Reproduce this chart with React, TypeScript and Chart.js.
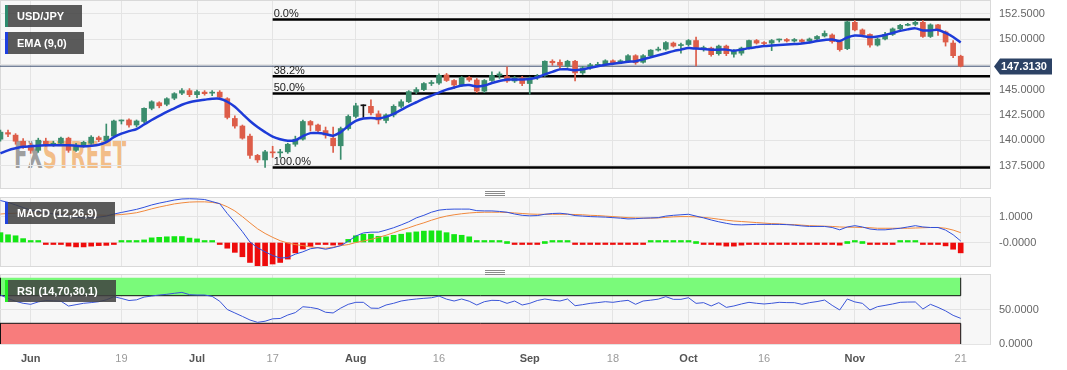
import React, { useEffect, useRef } from 'react';
import { Chart, registerables } from 'chart.js';

Chart.register(...registerables);

const FONT = '"Liberation Sans", Arial, Helvetica, sans-serif';
Chart.defaults.font.family = FONT;

// ---------- DATA ----------
const tradingDays = [
  '2023-05-26','2023-05-29','2023-05-30','2023-05-31',
  '2023-06-01','2023-06-02','2023-06-05','2023-06-06','2023-06-07','2023-06-08','2023-06-09','2023-06-12','2023-06-13','2023-06-14','2023-06-15','2023-06-16','2023-06-19','2023-06-20','2023-06-21','2023-06-22','2023-06-23','2023-06-26','2023-06-27','2023-06-28','2023-06-29','2023-06-30',
  '2023-07-03','2023-07-04','2023-07-05','2023-07-06','2023-07-07','2023-07-10','2023-07-11','2023-07-12','2023-07-13','2023-07-14','2023-07-17','2023-07-18','2023-07-19','2023-07-20','2023-07-21','2023-07-24','2023-07-25','2023-07-26','2023-07-27','2023-07-28','2023-07-31',
  '2023-08-01','2023-08-02','2023-08-03','2023-08-04','2023-08-07','2023-08-08','2023-08-09','2023-08-10','2023-08-11','2023-08-14','2023-08-15','2023-08-16','2023-08-17','2023-08-18','2023-08-21','2023-08-22','2023-08-23','2023-08-24','2023-08-25','2023-08-28','2023-08-29','2023-08-30','2023-08-31',
  '2023-09-01','2023-09-04','2023-09-05','2023-09-06','2023-09-07','2023-09-08','2023-09-11','2023-09-12','2023-09-13','2023-09-14','2023-09-15','2023-09-18','2023-09-19','2023-09-20','2023-09-21','2023-09-22','2023-09-25','2023-09-26','2023-09-27','2023-09-28','2023-09-29',
  '2023-10-02','2023-10-03','2023-10-04','2023-10-05','2023-10-06','2023-10-09','2023-10-10','2023-10-11','2023-10-12','2023-10-13','2023-10-16','2023-10-17','2023-10-18','2023-10-19','2023-10-20','2023-10-23','2023-10-24','2023-10-25','2023-10-26','2023-10-27','2023-10-30','2023-10-31',
  '2023-11-01','2023-11-02','2023-11-03','2023-11-06','2023-11-07','2023-11-08','2023-11-09','2023-11-10','2023-11-13','2023-11-14','2023-11-15','2023-11-16','2023-11-17','2023-11-20','2023-11-21',
];

const opens = [
  140.1, 140.75, 140.5, 139.9, 139.5, 139.0, 139.9, 139.6, 139.7, 140.2,
  139.0, 139.55, 139.7, 140.25, 139.95, 140.4, 141.9, 142.0, 141.5, 141.85,
  143.15, 143.7, 143.55, 144.15, 144.65, 144.9, 144.5, 144.75, 144.65, 144.75,
  144.1, 142.15, 141.4, 140.4, 138.5, 138.05, 138.85, 138.75, 138.85, 139.6,
  140.1, 141.85, 141.5, 140.95, 140.2, 139.45, 141.15, 142.35, 143.4, 143.35,
  142.6, 141.95, 142.5, 143.35, 143.8, 144.8, 145.0, 145.6, 145.65, 146.45,
  145.9, 145.45, 146.2, 145.95, 144.85, 145.9, 146.4, 146.3, 145.85, 146.15,
  145.6, 146.15, 146.4, 147.8, 147.7, 147.3, 147.8, 146.65, 147.15, 147.4,
  147.5, 147.85, 147.7, 147.85, 148.35, 147.7, 148.35, 148.9, 149.0, 149.6,
  149.35, 149.45, 149.85, 149.05, 149.1, 148.55, 149.3, 148.5, 148.6, 149.15,
  149.85, 149.65, 149.6, 149.9, 149.95, 149.8, 149.9, 149.8, 150.0, 150.3,
  150.4, 149.75, 149.05, 151.65, 150.9, 150.45, 149.4, 150.0, 150.45, 151.0,
  151.35, 151.45, 151.65, 150.25, 151.4, 150.7, 149.6, 148.3,
];
const highs = [
  141.0, 141.0, 140.65, 140.15, 139.7, 140.2, 140.2, 139.9, 140.3, 140.3,
  139.7, 139.9, 140.45, 140.4, 141.6, 142.0, 142.0, 142.1, 142.0, 143.2,
  143.9, 143.8, 144.2, 144.7, 145.1, 145.1, 144.95, 144.9, 144.9, 144.9,
  144.2, 142.4, 141.5, 140.6, 138.6, 139.0, 139.4, 139.1, 139.7, 140.4,
  142.0, 141.95, 141.6, 141.3, 141.3, 141.3, 142.5, 143.65, 143.5, 144.0,
  142.9, 142.6, 143.5, 144.0, 144.9, 145.2, 145.7, 145.9, 146.55, 146.6,
  146.0, 146.3, 146.3, 146.1, 146.0, 146.75, 146.75, 147.25, 146.3, 146.3,
  146.25, 146.5, 147.85, 147.95, 147.95, 147.9, 147.9, 147.3, 147.6, 147.7,
  147.95, 147.95, 147.95, 148.45, 148.45, 148.45, 148.95, 149.2, 149.75, 149.7,
  149.6, 149.95, 150.2, 149.3, 149.2, 149.4, 149.4, 148.95, 149.2, 149.9,
  149.95, 149.75, 149.95, 150.0, 150.05, 150.05, 150.0, 150.1, 150.35, 150.8,
  150.5, 149.85, 151.75, 151.85, 151.0, 150.5, 150.1, 150.65, 151.1, 151.45,
  151.55, 151.85, 151.85, 151.5, 151.45, 150.8, 149.85, 148.4,
];
const lows = [
  139.9, 140.35, 139.6, 139.2, 138.7, 138.8, 139.4, 139.4, 139.5, 138.8,
  138.9, 139.3, 139.6, 139.85, 139.8, 140.3, 141.6, 141.3, 141.3, 141.7,
  143.0, 143.2, 143.4, 144.0, 144.5, 144.3, 144.2, 144.45, 144.4, 144.0,
  142.1, 141.2, 140.1, 138.2, 137.8, 137.3, 138.3, 138.3, 138.7, 139.4,
  140.0, 140.9, 140.8, 140.2, 138.8, 138.1, 141.0, 142.2, 142.25, 142.5,
  141.6, 141.7, 142.3, 143.2, 143.7, 144.6, 144.9, 145.4, 145.5, 145.8,
  145.1, 145.3, 145.8, 144.7, 144.7, 145.8, 146.1, 145.7, 145.7, 145.4,
  144.55, 146.0, 146.3, 147.4, 147.0, 147.2, 145.85, 146.5, 147.0, 147.3,
  147.4, 147.5, 147.55, 147.75, 147.5, 147.6, 148.2, 148.8, 148.9, 149.2,
  148.6, 149.3, 147.35, 148.8, 148.3, 148.4, 148.35, 148.2, 148.4, 149.0,
  149.5, 149.3, 148.85, 149.7, 149.7, 149.7, 149.6, 149.6, 149.9, 150.2,
  149.6, 148.8, 148.95, 150.8, 150.25, 149.2, 149.3, 149.9, 150.35, 150.9,
  151.3, 151.3, 150.15, 150.15, 150.35, 149.3, 148.15, 147.25,
];
const closes = [
  140.8, 140.6, 139.9, 139.4, 139.0, 140.0, 139.6, 139.7, 140.2, 139.0,
  139.5, 139.8, 140.3, 140.05, 140.4, 141.9, 141.95, 141.5, 141.9, 143.15,
  143.8, 143.4, 144.1, 144.6, 144.9, 144.5, 144.8, 144.6, 144.75, 144.25,
  142.25, 141.4, 140.2, 138.5, 138.05, 138.85, 138.75, 138.85, 139.6, 140.1,
  141.85, 141.5, 140.95, 140.5, 139.45, 141.15, 142.35, 143.4, 143.4, 142.7,
  142.0, 142.5, 143.35, 143.8, 144.8, 145.0, 145.6, 145.7, 146.4, 145.9,
  145.45, 146.2, 145.95, 144.85, 145.9, 146.4, 146.55, 145.85, 146.15, 145.6,
  146.15, 146.35, 147.8, 147.65, 147.4, 147.8, 146.65, 147.15, 147.45, 147.5,
  147.85, 147.65, 147.85, 148.35, 147.65, 148.35, 148.9, 149.0, 149.65, 149.3,
  149.45, 149.85, 149.15, 149.1, 148.45, 149.3, 148.55, 148.8, 149.1, 149.85,
  149.6, 149.55, 149.85, 149.95, 149.8, 149.95, 149.75, 150.0, 150.25, 150.55,
  149.75, 148.95, 151.7, 150.9, 150.45, 149.4, 150.0, 150.45, 151.0, 151.35,
  151.45, 151.65, 150.25, 151.4, 150.85, 149.7, 148.35, 147.313,
];
const ema9 = [
  138.7, 139.0, 139.2, 139.35, 139.4, 139.45, 139.5, 139.5, 139.5, 139.5,
  139.45, 139.4, 139.45, 139.55, 139.8, 140.3, 140.65, 140.9, 141.1, 141.55,
  142.0, 142.4, 142.8, 143.15, 143.5, 143.75, 143.9, 144.0, 144.1, 144.1,
  143.8, 143.3, 142.6, 141.9, 141.3, 140.8, 140.35, 140.1, 139.95, 140.0,
  140.4, 140.7, 140.7, 140.6, 140.45, 140.8, 141.4, 141.9, 142.15, 142.2,
  142.15, 142.3, 142.6, 143.0, 143.4, 143.75, 144.1, 144.4, 144.7, 145.0,
  145.2, 145.4, 145.45, 145.3, 145.4, 145.65, 145.85, 146.0, 146.0, 146.0,
  146.05, 146.2, 146.5, 146.75, 147.0, 147.0, 146.9, 147.0, 147.15, 147.3,
  147.45, 147.55, 147.65, 147.75, 147.8, 148.0, 148.2, 148.4, 148.6, 148.8,
  148.95, 149.1, 149.05, 149.0, 148.95, 148.95, 148.95, 148.85, 148.95, 149.1,
  149.2, 149.3, 149.35, 149.4, 149.45, 149.5, 149.55, 149.65, 149.8, 149.9,
  149.95, 149.8, 150.15, 150.35, 150.3, 150.2, 150.25, 150.4, 150.6, 150.8,
  150.95, 151.05, 150.85, 150.85, 150.9, 150.6, 150.2, 149.65,
];
const macdLine = [
  1.62, 1.55, 1.45, 1.35, 1.25, 1.2, 1.15, 1.1, 1.08, 1.02,
  0.98, 0.95, 0.96, 0.98, 1.02, 1.1, 1.16, 1.22, 1.28, 1.36,
  1.45, 1.52, 1.58, 1.64, 1.68, 1.69, 1.68, 1.66, 1.58, 1.5,
  1.12, 0.78, 0.42, 0.02, -0.2, -0.36, -0.5, -0.6, -0.58, -0.45,
  -0.36, -0.24, -0.2, -0.26, -0.2, -0.12, 0.05, 0.25, 0.37, 0.4,
  0.4, 0.48, 0.57, 0.68, 0.8, 0.95, 1.05, 1.17, 1.25, 1.28,
  1.29, 1.29, 1.29, 1.23, 1.22, 1.22, 1.2, 1.17, 1.1, 1.05,
  1.03, 1.04, 1.09, 1.12, 1.13, 1.1, 1.04, 1.02, 1.0, 0.99,
  0.98, 0.96, 0.94, 0.91, 0.92, 0.94, 0.95, 0.96, 1.02, 1.05,
  1.07, 1.09, 1.02, 0.95, 0.87, 0.8, 0.74, 0.69, 0.68, 0.69,
  0.7, 0.7, 0.7, 0.7, 0.69, 0.67, 0.64, 0.62, 0.62, 0.62,
  0.58, 0.49, 0.6, 0.65, 0.6, 0.52, 0.49, 0.49, 0.52, 0.55,
  0.6, 0.65, 0.6, 0.58, 0.58, 0.48, 0.3, 0.06,
];
const signalLine = [
  1.1, 1.12, 1.13, 1.14, 1.14, 1.14, 1.13, 1.12, 1.11, 1.1,
  1.09, 1.08, 1.07, 1.06, 1.05, 1.06, 1.08, 1.11, 1.15, 1.22,
  1.3, 1.37, 1.43, 1.49, 1.53, 1.56, 1.57, 1.57, 1.55, 1.5,
  1.38, 1.22, 1.0, 0.76, 0.53, 0.35, 0.2, 0.07, -0.02, -0.08,
  -0.12, -0.17, -0.2, -0.22, -0.18, -0.12, -0.08, 0.0, 0.06, 0.12,
  0.2, 0.28, 0.38, 0.48, 0.57, 0.67, 0.76, 0.86, 0.95, 1.02,
  1.07, 1.11, 1.14, 1.16, 1.17, 1.17, 1.17, 1.16, 1.14, 1.12,
  1.1, 1.09, 1.09, 1.09, 1.09, 1.09, 1.08, 1.07, 1.05, 1.04,
  1.02, 1.0, 0.98, 0.96, 0.95, 0.94, 0.94, 0.95, 0.97, 0.99,
  1.0, 1.0, 0.99, 0.97, 0.94, 0.9, 0.86, 0.83, 0.81, 0.79,
  0.77, 0.75, 0.73, 0.72, 0.7, 0.69, 0.67, 0.65, 0.64, 0.63,
  0.62, 0.6, 0.59, 0.59, 0.58, 0.57, 0.55, 0.55, 0.55, 0.55,
  0.55, 0.56, 0.57, 0.58, 0.58, 0.55, 0.48, 0.38,
];
const macdHist = [
  0.38, 0.3, 0.26, 0.15, 0.02, 0.02, -0.02, -0.03, -0.04, -0.14,
  -0.17, -0.17, -0.14, -0.12, -0.11, -0.01, 0.02, 0.03, 0.04, 0.1,
  0.18, 0.2, 0.22, 0.23, 0.23, 0.17, 0.14, 0.04, 0.03, -0.03,
  -0.22, -0.38, -0.55, -0.77, -0.9, -0.9, -0.83, -0.77, -0.64, -0.4,
  -0.25, -0.15, -0.05, -0.05, -0.1, -0.03, 0.12, 0.26, 0.32, 0.32,
  0.24, 0.22, 0.28, 0.32, 0.38, 0.41, 0.44, 0.45, 0.45, 0.38,
  0.31, 0.28, 0.22, 0.06, 0.02, 0.02, 0.02, 0.0, -0.02, -0.07,
  -0.07, -0.07, 0.0, 0.02, 0.02, 0.01, -0.03, -0.03, -0.04, -0.04,
  -0.04, -0.04, -0.04, -0.04, -0.04, -0.04, 0.01, 0.01, 0.02, 0.02,
  0.02, 0.02, 0.0, -0.02, -0.07, -0.1, -0.14, -0.14, -0.1, -0.07,
  -0.04, -0.04, -0.04, -0.04, -0.04, -0.04, -0.04, -0.04, -0.04, -0.04,
  -0.04, -0.1, 0.0, 0.01, 0.0, -0.05, -0.05, -0.04, -0.02, 0.01,
  0.05, 0.06, -0.01, -0.01, -0.02, -0.13, -0.26, -0.4,
];
const rsi14 = [
  71, 66, 62, 59, 57.5, 61, 63, 62.5, 62, 55,
  57, 59, 60, 61.3, 64, 68.6, 66, 63, 64, 68,
  69.5, 71, 72, 73.5, 74.8, 71.5, 71, 71, 69, 62,
  50, 45, 40, 34.8, 31.4, 33, 36.5, 37, 42, 45.5,
  54, 53, 51, 46, 45, 52, 57.5, 60.4, 60.4, 52,
  51.7, 56.5, 59, 62.3, 64, 65.2, 66.2, 67, 69.5, 65,
  62.3, 65.2, 62, 56.5, 61.3, 63.3, 63, 58.9, 62.3, 56.5,
  58.9, 63, 65.2, 63.5, 62.3, 65.2, 55.5, 57, 58.9, 60,
  61.3, 60.4, 62, 63.3, 57.5, 62.3, 63.5, 65, 68.6, 64.7,
  64.7, 67.1, 58.9, 59.9, 55.1, 59.9, 53.1, 55.1, 58, 60.4,
  59, 58, 59, 60.4, 60, 59.9, 57.5, 59.9, 61.5, 63.7,
  56, 49.3, 65.2, 61, 58.9, 49.3, 54.1, 56, 58, 60.4,
  60.8, 60.9, 50.7, 57.5, 53.1, 48, 41.5, 37.2,
];

const tickDates = ['2023-06-01','2023-06-19','2023-07-03','2023-07-17','2023-08-01','2023-08-16','2023-09-01','2023-09-18','2023-10-02','2023-10-16','2023-11-01','2023-11-21'];
const tickLabels = ['Jun','19','Jul','17','Aug','16','Sep','18','Oct','16','Nov','21'];
const priceTicks = [137.5, 140, 142.5, 145, 147.5, 150, 152.5];
const macdTicks = [0, 1];
const rsiTicks = [0, 50];
const fibLabels = ['0.0%', '38.2%', '50.0%', '100.0%'];
const fibValues = [151.92, 146.33, 144.61, 137.3];
const fibStartDate = '2023-07-17';
const lastPrice = 147.313;
const rsiBands = [30, 70, 96];

// ---------- helpers ----------
const X_MIN = -0.0595;
const X_MAX = 130.876;
const tickIdx = tickDates.map((d) => tradingDays.indexOf(d));
const idx = tradingDays.map((_, i) => i);
const lastIdx = tradingDays.length - 1;

const isMonthTick = (v: number) => {
  const k = tickIdx.indexOf(v);
  return k >= 0 && /^[A-Za-z]/.test(tickLabels[k]);
};

function xScale(showLabels: boolean): any {
  return {
    type: 'linear',
    min: X_MIN,
    max: X_MAX,
    offset: false,
    bounds: 'data',
    afterBuildTicks: (s: any) => { s.ticks = tickIdx.map((v) => ({ value: v })); },
    afterFit: (s: any) => { s.height = showLabels ? 26 : 0; s.paddingLeft = 0; s.paddingRight = 0; },
    grid: { color: '#e4e4e4', drawTicks: false, offset: false },
    border: { display: false },
    ticks: {
      display: showLabels,
      autoSkip: false,
      maxRotation: 0,
      padding: 8,
      callback: (v: any) => { const k = tickIdx.indexOf(v); return k >= 0 ? tickLabels[k] : ''; },
      color: (c: any) => (c.tick && isMonthTick(c.tick.value) ? '#555' : '#9a9a9a'),
      font: (c: any) => ({ family: FONT, size: 11, weight: c.tick && isMonthTick(c.tick.value) ? 'bold' : 'normal' }),
    },
  };
}

function yScale(min: number, max: number, ticks: number[], fmt: (v: number) => string): any {
  return {
    type: 'linear',
    position: 'right',
    min,
    max,
    bounds: 'data',
    afterBuildTicks: (s: any) => { s.ticks = ticks.map((v) => ({ value: v })); },
    afterFit: (s: any) => { s.width = 77; s.paddingTop = 0; s.paddingBottom = 0; },
    grid: { color: '#e4e4e4', drawTicks: false },
    border: { display: false },
    ticks: { padding: 9, color: '#666', font: { family: FONT, size: 11 }, autoSkip: false, callback: (v: any) => fmt(v) },
  };
}

const baseOptions = (scales: any): any => ({
  responsive: false,
  animation: false,
  devicePixelRatio: 1,
  events: [],
  layout: { padding: 0, autoPadding: false },
  plugins: { legend: { display: false }, tooltip: { enabled: false } },
  scales,
});

const line = (data: any[], color: string, width: number, extra: any = {}) => ({
  type: 'line',
  data,
  borderColor: color,
  borderWidth: width,
  pointRadius: 0,
  fill: false,
  ...extra,
});

const mainOverlay = {
  id: 'mainOverlay',
  afterDatasetsDraw(chart: any) {
    const { ctx, scales, chartArea } = chart;
    const x = scales.x;
    const y = scales.y;
    ctx.save();
    ctx.font = `11px ${FONT}`;
    ctx.fillStyle = '#222';
    ctx.textAlign = 'left';
    ctx.textBaseline = 'alphabetic';
    const x0 = x.getPixelForValue(tradingDays.indexOf(fibStartDate));
    fibValues.forEach((v, k) => ctx.fillText(fibLabels[k], x0 + 1, y.getPixelForValue(v) - 2.5));
    ctx.restore();
  },
  afterDraw(chart: any) {
    const { ctx, scales, chartArea } = chart;
    const yp = Math.round(scales.y.getPixelForValue(lastPrice)) + 0.5;
    const l = chartArea.right + 4;
    ctx.save();
    ctx.fillStyle = '#2c4265';
    ctx.beginPath();
    ctx.moveTo(l, yp);
    ctx.lineTo(l + 6, yp - 8);
    ctx.lineTo(l + 58, yp - 8);
    ctx.lineTo(l + 58, yp + 8);
    ctx.lineTo(l + 6, yp + 8);
    ctx.closePath();
    ctx.fill();
    ctx.fillStyle = '#fff';
    ctx.font = `bold 11px ${FONT}`;
    ctx.textAlign = 'left';
    ctx.textBaseline = 'middle';
    ctx.fillText(lastPrice.toFixed(4), l + 7, yp + 0.5);
    ctx.restore();
  },
};

function Badge(props: { left: number; top: number; width: number; stripe: string; text: string }) {
  return (
    <div
      style={{
        position: 'absolute',
        left: props.left,
        top: props.top,
        width: props.width,
        height: 22,
        boxSizing: 'border-box',
        background: 'rgba(64,64,64,0.86)',
        borderLeft: `3px solid ${props.stripe}`,
        color: '#fff',
        font: `bold 11px ${FONT}`,
        lineHeight: '22px',
        paddingLeft: 9,
        whiteSpace: 'nowrap',
      }}
    >
      {props.text}
    </div>
  );
}

function Grip(props: { top: number }) {
  const bar = (t: number) => (
    <div style={{ position: 'absolute', left: 0, top: t, width: 20, height: 1, background: '#8a8a8a' }} />
  );
  return (
    <div style={{ position: 'absolute', left: 485, top: props.top, width: 20, height: 6 }}>
      {bar(0)}
      {bar(2)}
      {bar(4)}
    </div>
  );
}

export default function App() {
  const mainRef = useRef<HTMLCanvasElement>(null);
  const macdRef = useRef<HTMLCanvasElement>(null);
  const rsiRef = useRef<HTMLCanvasElement>(null);

  useEffect(() => {
    const charts: any[] = [];
    const candleColor = idx.map((i) =>
      closes[i] > opens[i] ? '#3b8d6d' : closes[i] < opens[i] ? '#dd5d49' : '#111111'
    );

    // main price panel
    const mainOpts = baseOptions({
      x: xScale(false),
      y: yScale(135.277, 153.755, priceTicks, (v) => (v === 147.5 ? '' : v.toFixed(4))),
    });
    mainOpts.layout.padding = { top: 1, left: 0, right: 0, bottom: 0 };
    charts.push(
      new Chart(mainRef.current as any, {
        type: 'bar',
        data: {
          datasets: [
            line(idx.map((i) => ({ x: i, y: ema9[i] })), '#1d3bd8', 2.5, { tension: 0.3, order: 0 }) as any,
            {
              type: 'bar',
              data: idx.map((i) => ({ x: i, y: [Math.min(opens[i], closes[i]), Math.max(opens[i], closes[i])] })),
              backgroundColor: candleColor,
              barThickness: 5,
              minBarLength: 1,
              grouped: false,
              order: 1,
            },
            {
              type: 'bar',
              data: idx.map((i) => ({ x: i, y: [lows[i], highs[i]] })),
              backgroundColor: candleColor,
              barThickness: 1,
              grouped: false,
              order: 2,
            },
            ...fibValues.map((v) =>
              line([{ x: tradingDays.indexOf(fibStartDate), y: v }, { x: X_MAX, y: v }], '#000', 2.5, { order: 3 })
            ),
            line([{ x: X_MIN, y: lastPrice }, { x: X_MAX, y: lastPrice }], '#3a4d70', 1, { order: 3 }),
          ] as any,
        },
        options: mainOpts,
        plugins: [mainOverlay],
      })
    );

    // MACD panel
    charts.push(
      new Chart(macdRef.current as any, {
        type: 'bar',
        data: {
          datasets: [
            line(idx.map((i) => ({ x: i, y: macdLine[i] })), '#2f4fdc', 1, { order: 0 }),
            line(idx.map((i) => ({ x: i, y: signalLine[i] })), '#f0883c', 1, { order: 0 }),
            {
              type: 'bar',
              data: idx.map((i) => ({ x: i, y: macdHist[i] })),
              backgroundColor: macdHist.map((v) => (v >= 0 ? '#14e614' : '#ee0b0b')),
              barThickness: 5,
              minBarLength: 2,
              grouped: false,
              order: 1,
            },
          ] as any,
        },
        options: baseOptions({
          x: xScale(false),
          y: yScale(-0.907, 1.757, macdTicks, (v) => (v === 0 ? '-0.0000' : v.toFixed(4))),
        }),
      })
    );

    // RSI panel
    const [lo, hi, top] = rsiBands;
    charts.push(
      new Chart(rsiRef.current as any, {
        type: 'line',
        data: {
          datasets: [
            line(idx.map((i) => ({ x: i, y: rsi14[i] })), '#3a55d8', 1, { order: 0 }),
            line([{ x: X_MIN, y: top }, { x: lastIdx, y: top }], 'rgba(0,0,0,0)', 1, { order: 5 }),
            line([{ x: X_MIN, y: hi }, { x: lastIdx, y: hi }], '#111', 1, {
              fill: '-1',
              backgroundColor: 'rgb(122,250,122)',
              order: 4,
            }),
            line([{ x: X_MIN, y: lo }, { x: lastIdx, y: lo }], '#111', 1, {
              fill: 'origin',
              backgroundColor: 'rgb(248,124,124)',
              order: 4,
            }),
            line([{ x: lastIdx, y: 0 }, { x: lastIdx, y: lo }], '#111', 1, { order: 3 }),
            line([{ x: lastIdx, y: hi }, { x: lastIdx, y: top }], '#111', 1, { order: 3 }),
            line([{ x: X_MIN, y: 0 }, { x: X_MIN, y: lo }], '#111', 2, { order: 3 }),
            line([{ x: X_MIN, y: hi }, { x: X_MIN, y: top }], '#111', 2, { order: 3 }),
          ] as any,
        },
        options: baseOptions({
          x: xScale(true),
          y: yScale(0, 100, rsiTicks, (v) => v.toFixed(4)),
        }),
      })
    );

    return () => charts.forEach((c) => c.destroy());
  }, []);

  const panel = (top: number, height: number) => (
    <div
      style={{
        position: 'absolute',
        left: 0,
        top,
        width: 991,
        height,
        boxSizing: 'border-box',
        background: '#f7f7f7',
        border: '1px solid #d9d9d9',
      }}
    />
  );

  return (
    <div
      style={{
        position: 'fixed',
        left: 0,
        top: 0,
        width: 1067,
        height: 370,
        background: '#ffffff',
        overflow: 'hidden',
      }}
    >
      {panel(0, 189)}
      {panel(197, 70)}
      {panel(274, 71)}
      <div
        style={{
          position: 'absolute',
          left: 14,
          top: 136,
          fontFamily: '"DejaVu Sans", sans-serif',
          fontWeight: 'bold',
          fontSize: 38,
          lineHeight: '38px',
          whiteSpace: 'nowrap',
          transform: 'scaleX(0.52)',
          transformOrigin: '0 0',
        }}
      >
        <span style={{ color: 'rgba(100,100,100,0.6)' }}>FX</span>
        <span style={{ color: 'rgba(240,150,60,0.6)' }}>STREET</span>
      </div>
      <canvas ref={mainRef} width={1067} height={188} style={{ position: 'absolute', left: 0, top: 0, width: 1067, height: 188 }} />
      <canvas ref={macdRef} width={1067} height={69} style={{ position: 'absolute', left: 0, top: 197, width: 1067, height: 69 }} />
      <canvas ref={rsiRef} width={1067} height={95} style={{ position: 'absolute', left: 0, top: 275, width: 1067, height: 95 }} />
      <Badge left={5} top={5} width={77} stripe="#2e8b6e" text="USD/JPY" />
      <Badge left={5} top={32} width={79} stripe="#1f3fe0" text="EMA (9,0)" />
      <Badge left={5} top={202} width={110} stripe="#2244dd" text="MACD (12,26,9)" />
      <Badge left={5} top={280} width={111} stripe="#22ee22" text="RSI (14,70,30,1)" />
      <Grip top={191} />
      <Grip top={270} />
    </div>
  );
}
